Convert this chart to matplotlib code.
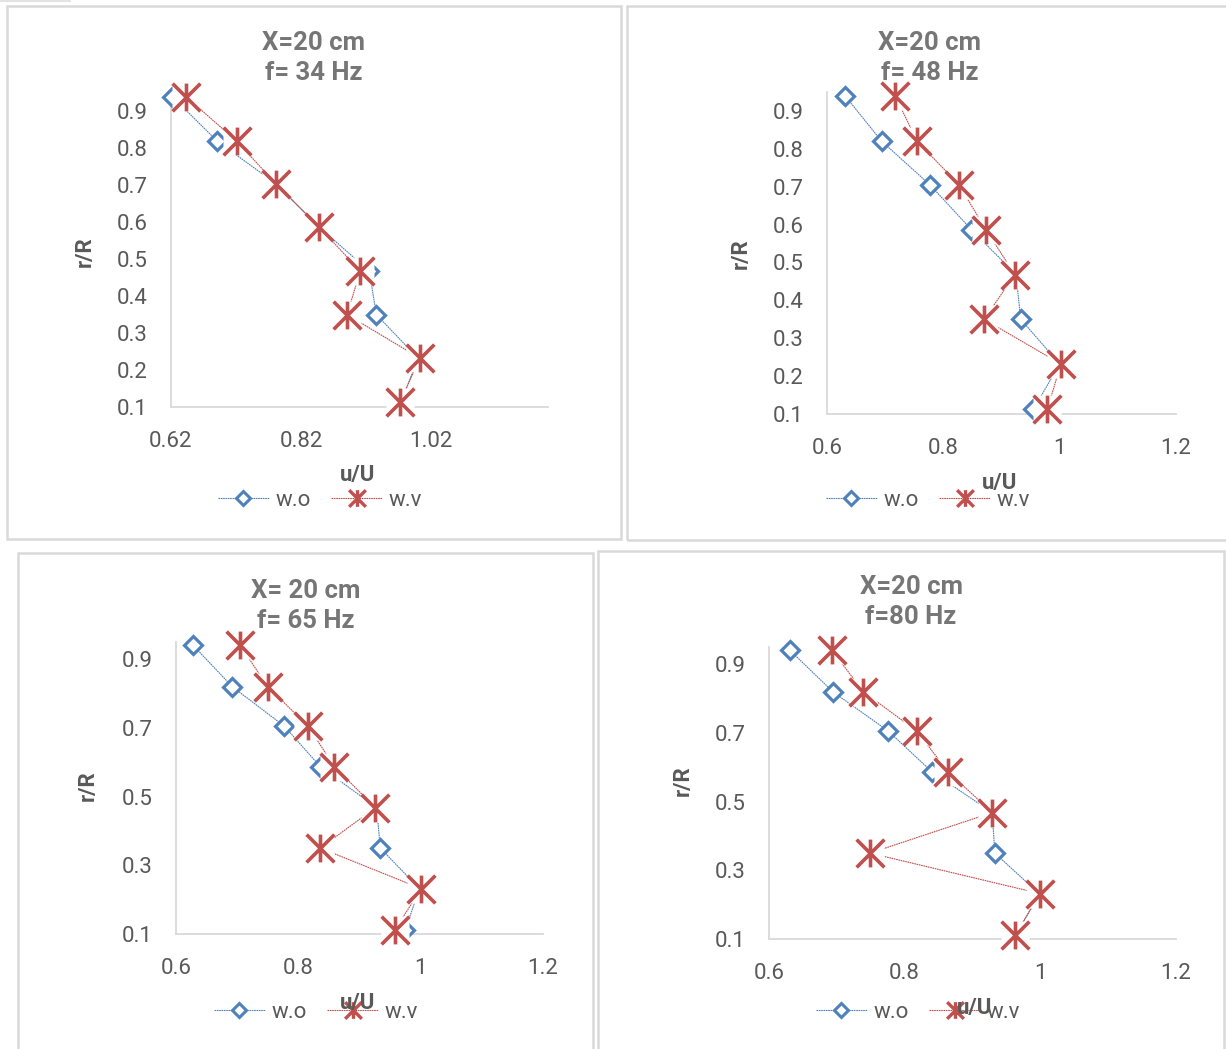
#!/usr/bin/env python3
"""Radial u/U profiles at X=20 cm, with and without vibration, four frequencies."""

import matplotlib

matplotlib.use("Agg")
import matplotlib.pyplot as plt
from matplotlib.lines import Line2D
from matplotlib.patches import Rectangle
from matplotlib.path import Path

plt.rcParams["font.family"] = ["Roboto", "DejaVu Sans"]

W, H = 1226, 1049

# r/R stations (same for every run)
r_R = [0.94, 0.82, 0.705, 0.587, 0.468, 0.35, 0.232, 0.113]

# u/U, without (w.o) and with (w.v) vibration
wo_34 = [0.622, 0.691, 0.781, 0.848, 0.925, 0.936, 1.000, 0.974]
wv_34 = [0.643, 0.721, 0.781, 0.848, 0.911, 0.891, 1.003, 0.972]

wo_48 = [0.631, 0.694, 0.777, 0.848, 0.925, 0.933, 1.000, 0.955]
wv_48 = [0.717, 0.755, 0.827, 0.873, 0.923, 0.870, 1.002, 0.979]

wo_65 = [0.628, 0.692, 0.777, 0.836, 0.928, 0.934, 0.998, 0.975]
wv_65 = [0.705, 0.750, 0.816, 0.859, 0.926, 0.836, 1.001, 0.958]

wo_80 = [0.631, 0.694, 0.776, 0.840, 0.929, 0.933, 0.998, 0.965]
wv_80 = [0.693, 0.739, 0.818, 0.864, 0.929, 0.749, 1.000, 0.963]

titles = ["X=20 cm\nf= 34 Hz", "X=20 cm\nf= 48 Hz", "X= 20 cm\nf= 65 Hz", "X=20 cm\nf=80 Hz"]
xticks = [[0.62, 0.82, 1.02], [0.6, 0.8, 1.0, 1.2], [0.6, 0.8, 1.0, 1.2], [0.6, 0.8, 1.0, 1.2]]
xlabels = [["0.62", "0.82", "1.02"], ["0.6", "0.8", "1", "1.2"],
           ["0.6", "0.8", "1", "1.2"], ["0.6", "0.8", "1", "1.2"]]
yticks = [[0.1, 0.2, 0.3, 0.4, 0.5, 0.6, 0.7, 0.8, 0.9],
          [0.1, 0.2, 0.3, 0.4, 0.5, 0.6, 0.7, 0.8, 0.9],
          [0.1, 0.3, 0.5, 0.7, 0.9],
          [0.1, 0.3, 0.5, 0.7, 0.9]]

BLUE = "#4F81BD"
RED = "#C0504D"
GREY_TXT = "#595959"
TITLE_C = "#767676"
EDGE = "#D9D9D9"
LS = (0, (1.5, 0.6))

# Excel-style star: an X with a vertical bar
STAR = Path(
    [(-1, -1), (1, 1), (-1, 1), (1, -1), (0, -1), (0, 1)],
    [Path.MOVETO, Path.LINETO, Path.MOVETO, Path.LINETO, Path.MOVETO, Path.LINETO],
)

# layout in pixels: axes (left, top, right, bottom), title centre, r/R, u/U, legend
panels = [
    dict(ax=(171, 93, 548, 407), title=(314, 58), ylab=(85, 252), xlab=(358, 475), leg=(320, 500),
         box=(7, 6, 621, 539), wo=wo_34, wv=wv_34, xlim=(0.62, 1.2)),
    dict(ax=(827, 92, 1176, 414), title=(930, 58), ylab=(741, 254), xlab=(1000, 483), leg=(928, 500),
         box=(627, 6, 1232, 540), wo=wo_48, wv=wv_48, xlim=(0.6, 1.2)),
    dict(ax=(176, 642, 543, 934), title=(306, 606), ylab=(88, 786), xlab=(358, 1003), leg=(316, 1012),
         box=(18, 553, 593, 1060), wo=wo_65, wv=wv_65, xlim=(0.6, 1.2)),
    dict(ax=(769, 647, 1176, 939), title=(911, 602), ylab=(683, 781), xlab=(975, 1008), leg=(918, 1012),
         box=(598, 551, 1224, 1060), wo=wo_80, wv=wv_80, xlim=(0.6, 1.2)),
]


def fx(x):
    return x / W


def fy(y):
    return 1 - y / H


fig = plt.figure(figsize=(W / 100, H / 100), dpi=100)

# stray border fragment at top-left
fig.add_artist(Line2D([0, fx(70)], [fy(0.8), fy(0.8)], color="#E3E3E3", lw=1.5,
                      transform=fig.transFigure))

for i, p in enumerate(panels):
    bx0, by0, bx1, by1 = p["box"]
    fig.add_artist(Rectangle((fx(bx0), fy(by1)), fx(bx1 - bx0), (by1 - by0) / H,
                             transform=fig.transFigure, fill=False, edgecolor=EDGE, lw=1.8))

    l, t, r, b = p["ax"]
    ax = fig.add_axes([fx(l), fy(b), fx(r - l), (b - t) / H])
    ax.plot(p["wo"], r_R, color=BLUE, lw=0.8, ls=LS, marker="D", ms=9.5,
            mfc="white", mec=BLUE, mew=2.3, zorder=3, clip_on=False)
    ax.plot(p["wv"], r_R, color=RED, lw=0.8, ls=LS, zorder=3.5, clip_on=False)
    # star markers sit on an opaque white box, as in Excel
    ax.plot(p["wv"], r_R, ls="none", marker="s", ms=20, mfc="white", mec="none",
            zorder=4, clip_on=False)
    ax.plot(p["wv"], r_R, ls="none", marker=STAR, ms=20, mfc="none", mec=RED,
            mew=2.6, zorder=5, clip_on=False)
    ax.set_xlim(*p["xlim"])
    ax.set_ylim(0.1, 0.95)
    ax.set_xticks(xticks[i])
    ax.set_xticklabels(xlabels[i])
    ax.set_yticks(yticks[i])
    ax.set_yticklabels([f"{v:.1f}" for v in yticks[i]])
    ax.tick_params(length=0, labelsize=16, labelcolor=GREY_TXT)
    ax.tick_params(axis="y", pad=17)
    ax.tick_params(axis="x", pad=17)
    for s in ("top", "right"):
        ax.spines[s].set_visible(False)
    for s in ("left", "bottom"):
        ax.spines[s].set_color(EDGE)
        ax.spines[s].set_linewidth(1.3)
    ax.patch.set_alpha(0)

    tx, ty = p["title"]
    fig.text(fx(tx), fy(ty), titles[i], ha="center", va="center", fontsize=18.5,
             fontweight="bold", color=TITLE_C, linespacing=1.35)
    yx, yy = p["ylab"]
    fig.text(fx(yx), fy(yy), "r/R", ha="center", va="center", rotation=90,
             fontsize=16, fontweight="bold", color=GREY_TXT)

    handles = [
        Line2D([], [], color=BLUE, lw=0.8, ls=LS, marker="D", ms=7.5,
               mfc="white", mec=BLUE, mew=2.2),
        Line2D([], [], color=RED, lw=0.8, ls=LS, marker=STAR, ms=12,
               mfc="none", mec=RED, mew=2.4),
    ]
    lx, ly = p["leg"]
    fig.legend(handles, ["w.o", "w.v"], loc="center", bbox_to_anchor=(fx(lx), fy(ly)),
               ncol=2, frameon=False, fontsize=16, labelcolor=GREY_TXT,
               handlelength=2.3, handletextpad=0.3, columnspacing=0.9)

    ux, uy = p["xlab"]
    fig.text(fx(ux), fy(uy), "u/U", ha="center", va="center", fontsize=16,
             fontweight="bold", color=GREY_TXT, zorder=10)

fig.savefig("out.png", dpi=100, facecolor="white")
